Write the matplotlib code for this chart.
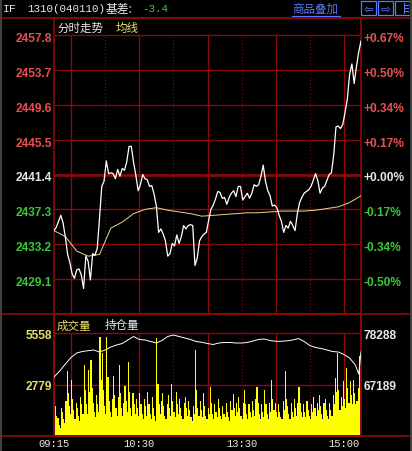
import matplotlib.pyplot as plt
import matplotlib.transforms as mtransforms
from matplotlib.patches import Rectangle
from matplotlib.lines import Line2D
import numpy as np

# ---- data ----
prev_close = 2441.4
price_ticks = [2457.8, 2453.7, 2449.6, 2445.5, 2441.4, 2437.3, 2433.2, 2429.1]
price_low = 2425.0

# price, one value every 2 minutes (minute 0 = 09:15, 270 = 15:15)
price = [
    2434.8, 2435.2, 2435.9, 2436.6, 2435.7, 2434.0, 2432.0, 2431.0, 2429.7, 2429.2,
    2430.2, 2430.3, 2429.6, 2428.0, 2431.8, 2431.2, 2429.0, 2432.1, 2431.9, 2432.7,
    2436.2, 2440.0, 2440.6, 2443.0, 2441.5, 2441.6, 2441.5, 2440.9, 2442.0, 2441.2,
    2442.1, 2441.9, 2442.9, 2444.7, 2444.7, 2442.8, 2441.3, 2439.5, 2440.2, 2441.4,
    2440.9, 2440.8, 2440.0, 2440.1, 2439.1, 2437.7, 2434.6, 2435.0, 2434.4, 2433.6,
    2431.8, 2432.1, 2433.3, 2433.0, 2434.3, 2433.3, 2434.1, 2435.4, 2435.0, 2435.4,
    2435.5, 2435.4, 2430.7, 2431.6, 2433.6, 2434.1, 2434.4, 2434.6, 2436.0, 2437.3,
    2437.8, 2438.5, 2439.4, 2439.3, 2438.6, 2438.7, 2437.9, 2438.7, 2439.2, 2439.5,
    2438.8, 2440.0, 2440.0, 2438.4, 2438.8, 2439.2, 2438.6, 2439.2, 2440.2, 2440.0,
    2440.2, 2441.2, 2442.5, 2440.6, 2439.5, 2438.9, 2437.7, 2437.8, 2437.5, 2436.6,
    2435.9, 2434.6, 2435.4, 2435.1, 2435.9, 2435.4, 2434.8, 2436.8, 2438.1, 2438.7,
    2439.2, 2439.4, 2439.6, 2440.0, 2440.7, 2441.5, 2440.7, 2439.2, 2439.8, 2440.0,
    2440.7, 2441.4, 2441.6, 2443.7, 2447.0, 2447.1, 2446.8, 2447.3, 2448.7, 2450.3,
    2453.2, 2454.4, 2452.1, 2454.1, 2455.8, 2457.1,
]
price_min = list(range(0, 271, 2))

# average price line, every 10 minutes
avg_price = [
    2434.8, 2434.1, 2432.4, 2431.8, 2432.0, 2435.1, 2435.8, 2436.8, 2437.3, 2437.5,
    2437.2, 2437.0, 2436.8, 2436.5, 2436.6, 2436.7, 2436.8, 2436.9, 2436.9, 2437.0,
    2437.1, 2437.1, 2437.1, 2437.2, 2437.4, 2437.6, 2438.1, 2438.9,
]
avg_min = list(range(0, 271, 10))

# volume per minute
volume = [
    5000, 1600, 1100, 950, 600, 450, 1500, 1300, 900, 700,
    1900, 3490, 2300, 1600, 1200, 3040, 2000, 1400, 900, 1800,
    1500, 1100, 800, 2100, 1700, 1200, 3840, 2500, 1700, 1200,
    3580, 2400, 4110, 2600, 1800, 1300, 1000, 2200, 1700, 1300,
    5360, 3000, 4480, 2500, 1600, 1200, 5360, 3200, 1900, 1300,
    1000, 2000, 3220, 2200, 1500, 1100, 2100, 3840, 2300, 1500,
    1100, 1800, 2690, 1900, 1300, 4020, 2400, 1500, 1100, 2300,
    1700, 1200, 2000, 1500, 1100, 2300, 1700, 1200, 900, 2000,
    1600, 1100, 2400, 1700, 1200, 900, 2100, 1500, 1100, 800,
    5290, 2800, 1700, 1200, 1900, 2300, 1600, 1100, 900, 1700,
    2200, 1500, 1100, 2800, 1900, 1300, 1000, 2400, 1700, 1200,
    2000, 1500, 1100, 900, 1800, 2100, 1500, 1100, 1900, 1400,
    1000, 800, 1600, 1200, 4650, 2500, 1500, 1100, 1900, 1400,
    1000, 2300, 1600, 1100, 900,
    1500, 1200, 2620, 1800, 1200, 900, 1700, 1300, 1000, 2000,
    1500, 1100, 900, 1620, 1200, 1000, 1800, 1300, 1000, 800,
    1900, 1400, 2240, 1500, 1100, 1800, 1300, 2100, 1500, 1100,
    900, 1800, 2500, 1700, 1200, 900, 1700, 1300, 1000, 1900,
    1400, 1100, 2000, 2620, 1800, 1200, 900, 1700, 1300, 1000,
    2500, 1700, 1200, 900, 1800, 1300, 3040, 2000, 1400, 1800,
    1300, 1000, 1700, 1300, 1000, 900, 1900, 1400, 3490, 2000,
    1600, 1200, 900, 1800, 1300, 1000, 2000, 1500, 1100, 1800,
    2620, 1800, 1300, 1000, 1700, 1300, 1000, 1900, 1400, 1100,
    900, 1700, 1300, 2100, 1500, 1100, 1800, 1400, 2200, 1600,
    1200, 900, 1800, 2000, 1400, 1100, 900, 1800, 1400, 1100,
    2200, 1700, 3150, 2400, 4480, 2500, 1400, 2100, 1600, 2950,
    2000, 1500, 3680, 2600, 1800, 2950, 2200, 1700, 3040, 2300,
    1700, 1900, 2600, 4290, 4560,
]
vol_ticks = [5558, 2779]

# open interest
oi_min = list(range(0, 266, 5)) + [268, 270]
open_int = [
    68714, 70019, 71542, 72957, 73936, 74262, 74436, 74589, 74154, 74589,
    75242, 75677, 76003, 76765, 77526, 76874, 76765, 76438, 76112, 76656,
    77526, 77853, 77526, 77200, 76874, 76438, 76264, 76003, 75786, 76112,
    76221, 76221, 76112, 76112, 76221, 76547, 76874, 76982, 76656, 76482,
    76482, 76591, 76765, 77091, 76438, 75568, 75133, 74915, 74589, 74262,
    74154, 73610, 72848, 71325, 69366, 74154,
]
oi_ticks = [78288, 67189]

time_labels = ['09:15', '10:30', '13:30', '15:00']
time_pos = [0, 75, 165, 255]
solid_grid = [15, 75, 135, 195, 255]
dot_grid = [45, 105, 165, 225]

# ---- colours ----
GRID = '#8a0a0a'
RED = '#e85050'
GREEN = '#38c838'
WHITE = '#e8e8e8'
YELLOW = '#ffff00'
LABEL_YELLOW = '#e8e070'
BLUE = '#5a78ff'
CJK = ['Noto Sans CJK SC', 'DejaVu Sans']

W, H = 412, 452
fig = plt.figure(figsize=(W / 100, H / 100), dpi=100, facecolor='black')


def fx(px):
    return px / W


def fy(py):
    return 1 - py / H


# main price panel (x 54..361, y 19..315)
ax = fig.add_axes([fx(54), fy(315), fx(307), (315 - 19) / H], facecolor='black')
top_price = price_ticks[0] + (36 - 19) * (price_ticks[0] - price_low) / (315 - 36)
ax.set_xlim(0, 270)
ax.set_ylim(price_low, top_price)

# volume panel (y 315..437)
axv = fig.add_axes([fx(54), fy(437), fx(307), (437 - 315) / H], facecolor='black')
axv.set_xlim(0, 270)
axv.set_ylim(0, 5558 * (437 - 315) / (437 - 334))
axo = axv.twinx()
oi_per_px = (oi_ticks[0] - oi_ticks[1]) / (385 - 334)
axo.set_ylim(oi_ticks[1] - (437 - 385) * oi_per_px, oi_ticks[0] + (334 - 315) * oi_per_px)

for a in (ax, axv, axo):
    a.set_xticks([])
    a.set_yticks([])
    for s in a.spines.values():
        s.set_color(GRID)
        s.set_linewidth(1.2)

# grid, price panel
for p in price_ticks:
    ax.axhline(p, color=GRID, lw=2.0 if p == prev_close else 1.0, zorder=1)
ax.vlines(solid_grid, price_low, price_ticks[0], color=GRID, lw=1.0, zorder=1)
ax.vlines(dot_grid, price_low, price_ticks[0], color=GRID, lw=0.8,
          linestyles=(0, (1, 2)), zorder=1)

# grid, volume panel
for v in vol_ticks:
    axv.axhline(v, color=GRID, lw=1.0, zorder=1)
axv.vlines(solid_grid, 0, vol_ticks[0], color=GRID, lw=1.0, zorder=1)
axv.vlines(dot_grid, 0, vol_ticks[0], color=GRID, lw=0.8,
           linestyles=(0, (1, 2)), zorder=1)

# series
ax.plot(avg_min, avg_price, color='#e8d890', lw=0.7, zorder=3)
ax.plot(price_min, price, color='white', lw=0.9, zorder=4)
axv.stairs(volume, np.arange(len(volume) + 1), fill=True, color=YELLOW,
           linewidth=0, zorder=2)
axo.plot(oi_min, open_int, color='white', lw=0.7, zorder=3)

# axis labels
lab_font = dict(family='Liberation Sans', fontsize=8.6, fontweight='bold')
off_l = mtransforms.offset_copy(ax.get_yaxis_transform(), fig=fig, x=-2, y=-3, units='dots')
off_r = mtransforms.offset_copy(ax.get_yaxis_transform(), fig=fig, x=3, y=-3, units='dots')
for p in price_ticks:
    pct = (p - prev_close) / prev_close * 100
    if abs(pct) < 0.005:
        c = WHITE
    elif pct > 0:
        c = RED
    else:
        c = GREEN
    ax.text(0, p, f'{p:.1f}', color=c, ha='right', va='center', transform=off_l, **lab_font)
    ax.text(1, p, f'{pct:+.2f}%', color=c, ha='left', va='center', transform=off_r, **lab_font)

offv_l = mtransforms.offset_copy(axv.get_yaxis_transform(), fig=fig, x=-2, y=-2, units='dots')
offv_r = mtransforms.offset_copy(axo.get_yaxis_transform(), fig=fig, x=3, y=-2, units='dots')
for v in vol_ticks:
    axv.text(0, v, str(v), color=LABEL_YELLOW, ha='right', va='center', transform=offv_l, **lab_font)
for o in oi_ticks:
    axo.text(1, o, str(o), color=WHITE, ha='left', va='center', transform=offv_r, **lab_font)

# time labels
for lbl, m in zip(time_labels, time_pos):
    axv.text(m, -0.06, lbl, color=WHITE, ha='center', va='center',
             transform=axv.get_xaxis_transform(), family='Liberation Mono', fontsize=7.6)

# panel titles
fig.text(fx(57), fy(28), '分时走势', color=WHITE, fontsize=8.3, family=CJK, va='center')
fig.text(fx(116), fy(28), '均线', color=LABEL_YELLOW, fontsize=8.3, family=CJK, va='center')
fig.text(fx(57), fy(326), '成交量', color=LABEL_YELLOW, fontsize=8.3, family=CJK, va='center')
fig.text(fx(105), fy(326), '持仓量', color=WHITE, fontsize=8.3, family=CJK, va='center')

# header row
fig.text(fx(3), fy(9), 'IF', color=WHITE, fontsize=8.2, family='Liberation Mono', va='center')
fig.text(fx(27), fy(9), '1310(040110)', color=WHITE, fontsize=7.8, family='Liberation Mono', va='center')
fig.text(fx(106), fy(9), '基差:', color=WHITE, fontsize=8.5, family=CJK, va='center')
fig.text(fx(142), fy(9), '-3.4', color=GREEN, fontsize=7.8, family='Liberation Mono', va='center')
fig.text(fx(292), fy(9), '商品叠加', color=BLUE, fontsize=8.3, family=CJK, va='center')
fig.add_artist(Line2D([fx(292), fx(340)], [fy(17), fy(17)], color=BLUE, lw=0.8))
for x0, sym in [(361, '⇦'), (378, '⇨'), (395, '')]:
    fig.add_artist(Rectangle((fx(x0), fy(16)), fx(15), 14 / H, fill=False,
                             edgecolor=BLUE, lw=0.9, transform=fig.transFigure))
    if sym:
        fig.text(fx(x0 + 7.5), fy(9), sym, color=BLUE, fontsize=8.5,
                 family='DejaVu Sans', ha='center', va='center')
fig.add_artist(Line2D([fx(404), fx(404)], [fy(4), fy(14)], color=BLUE, lw=0.8))
for yy in (6, 9, 12):
    fig.add_artist(Line2D([fx(405), fx(408)], [fy(yy), fy(yy)], color=BLUE, lw=0.8))

# full-width separators
for yy in (19, 315, 437):
    fig.add_artist(Line2D([0, 1], [fy(yy), fy(yy)], color=GRID, lw=1.2))
for xx in (1, 411):
    fig.add_artist(Line2D([fx(xx), fx(xx)], [0, 1], color='#404040', lw=1.5))

fig.savefig('out.png', dpi=100, facecolor='black')
